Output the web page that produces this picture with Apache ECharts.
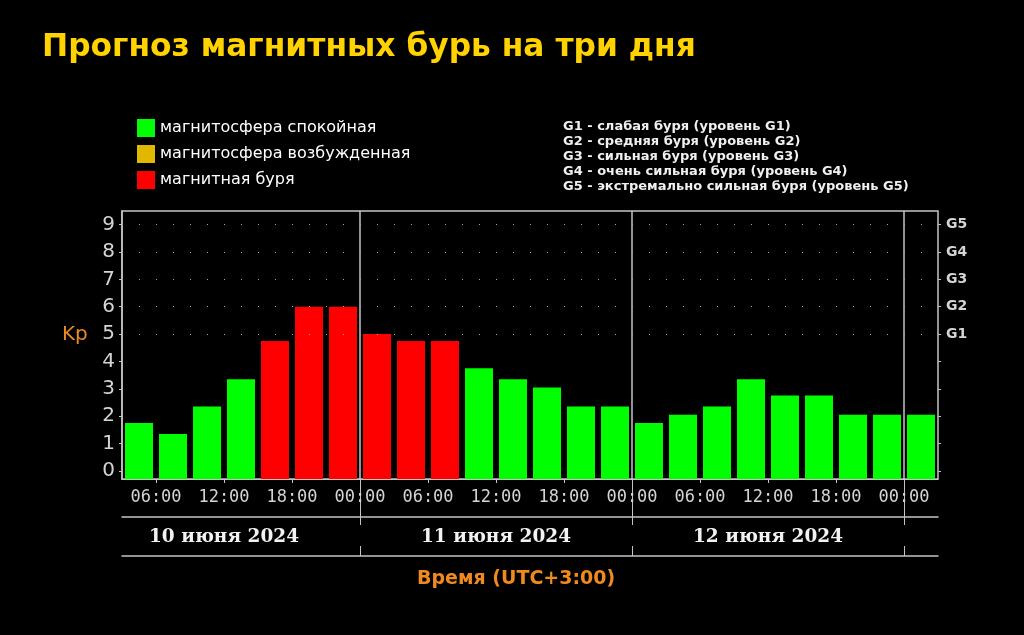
<!DOCTYPE html>
<html>
<head>
<meta charset="utf-8">
<script src="https://cdn.jsdelivr.net/npm/echarts@6/dist/echarts.min.js"></script>
<style>
  html, body { margin: 0; padding: 0; background: #000; }
  #chart { width: 1024px; height: 635px; }
</style>
</head>
<body>
<div id="chart"></div>
<script>
// 3-часовые интервалы (UTC+3)
const slots = [
  '10.06 03:00', '10.06 06:00', '10.06 09:00', '10.06 12:00', '10.06 15:00', '10.06 18:00', '10.06 21:00',
  '11.06 00:00', '11.06 03:00', '11.06 06:00', '11.06 09:00', '11.06 12:00', '11.06 15:00', '11.06 18:00', '11.06 21:00',
  '12.06 00:00', '12.06 03:00', '12.06 06:00', '12.06 09:00', '12.06 12:00', '12.06 15:00', '12.06 18:00', '12.06 21:00',
  '13.06 00:00'
];
const kp = [
  1.75, 1.35, 2.35, 3.35, 4.75, 6, 6,
  5, 4.75, 4.75, 3.75, 3.35, 3.05, 2.35, 2.35,
  1.75, 2.05, 2.35, 3.35, 2.75, 2.75, 2.05, 2.05,
  2.05
];
const status = [
  'calm', 'calm', 'calm', 'calm', 'storm', 'storm', 'storm',
  'storm', 'storm', 'storm', 'calm', 'calm', 'calm', 'calm', 'calm',
  'calm', 'calm', 'calm', 'calm', 'calm', 'calm', 'calm', 'calm',
  'calm'
];
const legendNames = ['магнитосфера спокойная', 'магнитосфера возбужденная', 'магнитная буря'];
const statusKeys = ['calm', 'active', 'storm'];
const statusColors = ['#00ff00', '#e0b800', '#ff0000'];

// часы от 00:00 10 июня
const hourTicks = [6, 12, 18, 24, 30, 36, 42, 48, 54, 60, 66, 72];
const hourLabels = ['06:00', '12:00', '18:00', '00:00', '06:00', '12:00', '18:00', '00:00', '06:00', '12:00', '18:00', '00:00'];
const dayTicks = [24, 48, 72];
const dayCenters = [12, 36, 60];
const dayLabels = ['10 июня 2024', '11 июня 2024', '12 июня 2024'];

const kpTicks = [0, 1, 2, 3, 4, 5, 6, 7, 8, 9];
const gTicks = [5, 6, 7, 8, 9];
const gLabels = ['G1', 'G2', 'G3', 'G4', 'G5'];
const gNotes = [
  'G1 - слабая буря (уровень G1)',
  'G2 - средняя буря (уровень G2)',
  'G3 - сильная буря (уровень G3)',
  'G4 - очень сильная буря (уровень G4)',
  'G5 - экстремально сильная буря (уровень G5)'
];

const lineColor = '#c4c4c4';
const textColor = '#d4d4d4';

const chart = echarts.init(document.getElementById('chart'));

const hourAxis = (extra) => Object.assign({
  type: 'value',
  min: 3,
  max: 75,
  position: 'bottom',
  axisLine: { show: false, onZero: false },
  axisTick: { show: false },
  axisLabel: { show: false },
  splitLine: { show: false },
}, extra);

const series = statusKeys.map((key, i) => ({
  name: legendNames[i],
  type: 'bar',
  xAxisIndex: 0,
  yAxisIndex: 0,
  barWidth: 28,
  barGap: '-100%',
  itemStyle: { color: statusColors[i] },
  data: kp.map((v, j) => (status[j] === key ? v : '-')),
  silent: true,
}));

// точечная сетка уровней G1..G5
series[0].markLine = {
  silent: true,
  symbol: 'none',
  label: { show: false },
  lineStyle: { color: '#a8a8a8', width: 1, type: [1, 16] },
  data: gTicks.map((v) => ({ yAxis: v })),
};

const options = {
  backgroundColor: '#000',
  animation: false,
  grid: {
    left: 122,
    right: 86,
    top: 211,
    bottom: 156,
    show: true,
    borderColor: lineColor,
    borderWidth: 1.5,
    backgroundColor: 'transparent',
  },
  legend: {
    orient: 'vertical',
    left: 137,
    top: 119,
    padding: 0,
    icon: 'rect',
    itemWidth: 18,
    itemHeight: 18,
    itemGap: 8,
    selectedMode: false,
    textStyle: { color: '#fff', fontSize: 16, fontFamily: 'DejaVu Sans' },
    data: legendNames,
  },
  xAxis: [
    // бары
    { type: 'category', data: slots, show: false, axisLine: { onZero: false } },
    // часы
    hourAxis({
      axisLine: { show: true, onZero: false, lineStyle: { color: lineColor } },
      axisTick: { show: true, length: 4, customValues: hourTicks, lineStyle: { color: lineColor } },
      axisLabel: {
        show: true,
        customValues: hourTicks,
        margin: 10,
        color: textColor,
        fontSize: 17,
        fontFamily: 'DejaVu Sans Mono',
        formatter: (v) => hourLabels[hourTicks.indexOf(v)],
      },
    }),
    // границы суток
    hourAxis({
      offset: 38,
      axisLine: { show: true, onZero: false, lineStyle: { color: lineColor, width: 1.5 } },
      axisTick: { show: true, inside: true, length: 38, customValues: dayTicks, lineStyle: { color: lineColor } },
      splitLine: { show: true, lineStyle: { color: lineColor, width: 1.5 } },
    }),
    hourAxis({
      offset: 46,
      axisTick: { show: true, inside: true, length: 8, customValues: dayTicks, lineStyle: { color: lineColor } },
    }),
    // даты
    hourAxis({
      offset: 77,
      axisLine: { show: true, onZero: false, lineStyle: { color: lineColor, width: 1.5 } },
      axisTick: { show: true, inside: true, length: 10, customValues: dayTicks, lineStyle: { color: lineColor } },
      axisLabel: {
        show: true,
        inside: true,
        customValues: dayCenters,
        margin: 9,
        color: '#f2f2f2',
        fontSize: 18.5,
        fontWeight: 'bold',
        fontFamily: 'DejaVu Serif',
        formatter: (v) => dayLabels[dayCenters.indexOf(v)],
      },
    }),
  ],
  yAxis: [
    {
      type: 'value',
      position: 'left',
      min: -0.3,
      max: 9.5,
      startValue: -0.3,
      axisLine: { show: true, onZero: false, lineStyle: { color: lineColor, width: 1.5 } },
      axisTick: { show: true, length: 3, customValues: kpTicks, lineStyle: { color: lineColor } },
      axisLabel: { customValues: kpTicks, margin: 7, color: textColor, fontSize: 20, fontFamily: 'DejaVu Sans' },
      splitLine: { show: false },
    },
    {
      type: 'value',
      position: 'right',
      min: -0.3,
      max: 9.5,
      axisLine: { show: false, onZero: false },
      axisTick: { show: true, length: 3, customValues: kpTicks, lineStyle: { color: lineColor } },
      axisLabel: {
        customValues: gTicks,
        margin: 8,
        color: textColor,
        fontSize: 14,
        fontWeight: 'bold',
        fontFamily: 'DejaVu Sans',
        formatter: (v) => gLabels[gTicks.indexOf(v)],
      },
      splitLine: { show: false },
    },
  ],
  graphic: [
    {
      type: 'text',
      left: 42,
      top: 32,
      style: {
        text: 'Прогноз магнитных бурь на три дня',
        fill: '#ffd200',
        font: 'bold 31.3px "DejaVu Sans"',
      },
    },
    {
      type: 'text',
      left: 563,
      top: 119,
      style: {
        text: gNotes.join('\n'),
        fill: '#f0f0f0',
        font: 'bold 13px "DejaVu Sans"',
        lineHeight: 15,
      },
    },
    {
      type: 'text',
      left: 62,
      top: 325,
      style: { text: 'Kp', fill: '#e8892a', font: '20px "DejaVu Sans"' },
    },
    {
      type: 'text',
      left: 417,
      top: 570,
      style: { text: 'Время (UTC+3:00)', fill: '#f08a1e', font: 'bold 19px "DejaVu Sans"' },
    },
  ],
  series: series,
};

chart.setOption(options);
</script>
</body>
</html>
